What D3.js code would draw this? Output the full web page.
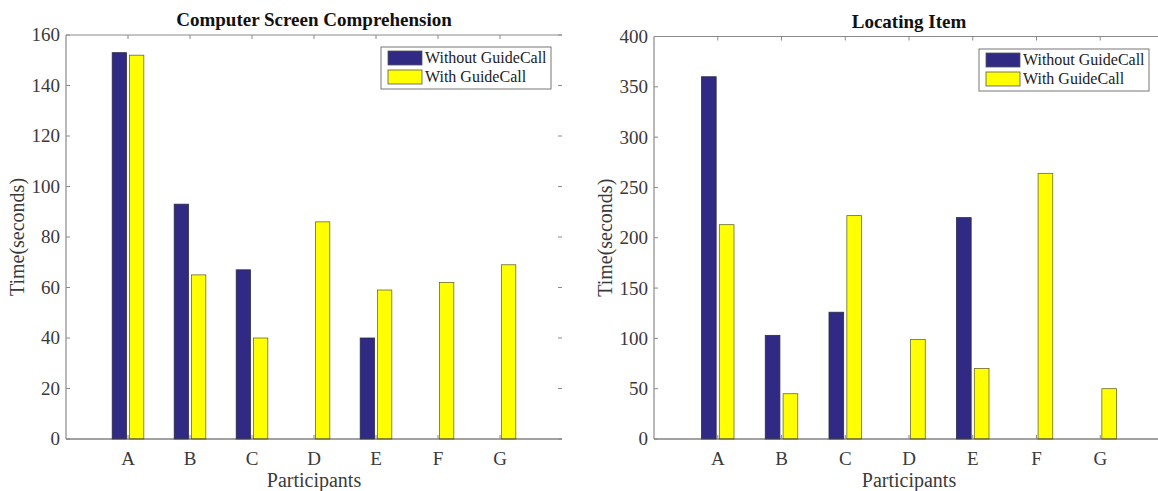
<!DOCTYPE html>
<html>
<head>
<meta charset="utf-8">
<script src="https://cdn.jsdelivr.net/npm/d3@7"></script>
<style>
  body { margin: 0; background: #fff; }
  svg { display: block; font-family: "Liberation Serif", "Times New Roman", serif; }
</style>
</head>
<body>
<svg id="chart" width="1158" height="491"></svg>
<script>
  // data
  var participants = ['A', 'B', 'C', 'D', 'E', 'F', 'G'];
  var seriesNames = ['Without GuideCall', 'With GuideCall'];
  var comprehensionWithout = [153, 93, 67, 0, 40, 0, 0];
  var comprehensionWith = [152, 65, 40, 86, 59, 62, 69];
  var locatingWithout = [360, 103, 126, 0, 220, 0, 0];
  var locatingWith = [213, 45, 222, 99, 70, 264, 50];
  var comprehensionTicks = [0, 20, 40, 60, 80, 100, 120, 140, 160];
  var locatingTicks = [0, 50, 100, 150, 200, 250, 300, 350, 400];

  var colors = ['#302a85', '#ffff00'];
  var axisColor = '#8a8a8a';
  var textColor = '#3a3a3a';

  var svg = d3.select('#chart');

  function drawPanel(p) {
    var g = svg.append('g');
    var x = d3.scaleLinear().domain([0, participants.length + 1]).range([p.left, p.right]);
    var y = d3.scaleLinear().domain([0, d3.max(p.ticks)]).range([p.bottom, p.top]);
    var barW = x(0.23) - x(0);
    var off = x(0.14) - x(0);

    // bars
    [p.without, p.with].forEach(function(vals, s) {
      g.selectAll('rect.s' + s)
        .data(vals)
        .enter().append('rect')
        .attr('class', 's' + s)
        .attr('x', function(d, i) { return x(i + 1) + (s === 0 ? -off : off) - barW / 2; })
        .attr('y', function(d) { return y(d); })
        .attr('width', barW)
        .attr('height', function(d) { return y(0) - y(d); })
        .attr('fill', colors[s])
        .attr('stroke', s === 0 ? '#2a2a4a' : '#6b6b2a')
        .attr('stroke-width', 0.8);
    });

    // axes lines
    g.append('line').attr('x1', p.left).attr('x2', p.right).attr('y1', p.bottom).attr('y2', p.bottom)
      .attr('stroke', '#444').attr('stroke-width', 1);
    g.append('line').attr('x1', p.left).attr('x2', p.right).attr('y1', p.top).attr('y2', p.top)
      .attr('stroke', axisColor).attr('stroke-width', 1);
    g.append('line').attr('x1', p.left).attr('x2', p.left).attr('y1', p.top).attr('y2', p.bottom)
      .attr('stroke', axisColor).attr('stroke-width', 1.2);

    // y ticks and labels
    var yt = g.selectAll('g.yt').data(p.ticks).enter().append('g').attr('class', 'yt');
    yt.append('line')
      .attr('x1', p.left).attr('x2', p.left + 4)
      .attr('y1', function(d) { return y(d); }).attr('y2', function(d) { return y(d); })
      .attr('stroke', axisColor);
    yt.append('line')
      .attr('x1', p.right - 4).attr('x2', p.right)
      .attr('y1', function(d) { return y(d); }).attr('y2', function(d) { return y(d); })
      .attr('stroke', axisColor);
    yt.append('text')
      .attr('x', p.left - 6).attr('y', function(d) { return y(d); })
      .attr('dy', '0.34em').attr('text-anchor', 'end')
      .attr('font-size', 19).attr('fill', textColor)
      .text(function(d) { return d; });

    // x ticks and labels
    var xt = g.selectAll('g.xt').data(participants).enter().append('g').attr('class', 'xt');
    xt.append('line')
      .attr('x1', function(d, i) { return x(i + 1); }).attr('x2', function(d, i) { return x(i + 1); })
      .attr('y1', p.bottom).attr('y2', p.bottom - 4).attr('stroke', axisColor);
    xt.append('line')
      .attr('x1', function(d, i) { return x(i + 1); }).attr('x2', function(d, i) { return x(i + 1); })
      .attr('y1', p.top).attr('y2', p.top + 4).attr('stroke', axisColor);
    xt.append('text')
      .attr('x', function(d, i) { return x(i + 1); }).attr('y', p.bottom + 26)
      .attr('text-anchor', 'middle').attr('font-size', 19).attr('fill', textColor)
      .text(function(d) { return d; });

    // titles
    g.append('text').attr('x', x(4)).attr('y', p.top - 9)
      .attr('text-anchor', 'middle').attr('font-size', 19).attr('font-weight', 'bold')
      .attr('fill', '#111').text(p.title);
    g.append('text').attr('x', x(4)).attr('y', p.bottom + 48)
      .attr('text-anchor', 'middle').attr('font-size', 20).attr('fill', textColor)
      .text('Participants');
    g.append('text')
      .attr('transform', 'translate(' + (p.left - 42) + ',' + ((p.top + p.bottom) / 2) + ') rotate(-90)')
      .attr('text-anchor', 'middle').attr('font-size', 20).attr('fill', textColor)
      .text('Time(seconds)');

    // legend
    var lg = g.append('g').attr('transform', 'translate(' + p.legendX + ',' + p.legendY + ')');
    lg.append('rect').attr('width', 170).attr('height', 42)
      .attr('fill', '#fff').attr('stroke', '#777').attr('stroke-width', 1);
    seriesNames.forEach(function(name, s) {
      lg.append('rect').attr('x', 7).attr('y', 4 + s * 19).attr('width', 34).attr('height', 14)
        .attr('fill', colors[s]).attr('stroke', '#555').attr('stroke-width', 0.8);
      lg.append('text').attr('x', 44).attr('y', 16 + s * 19)
        .attr('font-size', 16).attr('fill', '#222').text(name);
    });
  }

  drawPanel({
    title: 'Computer Screen Comprehension',
    without: comprehensionWithout, with: comprehensionWith, ticks: comprehensionTicks,
    left: 66, right: 562, top: 35, bottom: 439, legendX: 381, legendY: 47
  });
  drawPanel({
    title: 'Locating Item',
    without: locatingWithout, with: locatingWith, ticks: locatingTicks,
    left: 654, right: 1164, top: 36.5, bottom: 439, legendX: 979, legendY: 49
  });
</script>
</body>
</html>
